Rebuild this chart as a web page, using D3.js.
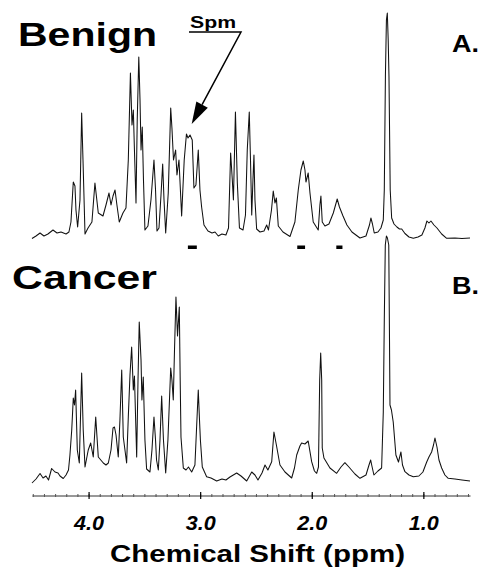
<!DOCTYPE html>
<html>
<head>
<meta charset="utf-8">
<script src="https://cdn.jsdelivr.net/npm/d3@7/dist/d3.min.js"></script>
<style>
  html, body { margin: 0; padding: 0; background: #fff; }
  svg { display: block; }
  text { font-family: "Liberation Sans", Arial, Helvetica, sans-serif; font-weight: bold; fill: #000; }
</style>
</head>
<body>
<svg id="chart" width="481" height="574"></svg>
<script>
// 1H spectrum traces: chemical shift (ppm) and intensity (arbitrary units)
const benignShift = [4.507,4.471,4.435,4.400,4.364,4.319,4.283,4.247,4.202,4.176,4.158,4.137,4.122,4.113,4.098,4.077,4.062,4.050,4.032,4.005,
  3.970,3.943,3.913,3.871,3.844,3.817,3.799,3.781,3.763,3.746,3.725,3.692,3.665,3.644,3.625,3.611,3.599,3.589,3.575,3.564,
  3.550,3.539,3.530,3.519,3.508,3.495,3.468,3.441,3.414,3.400,3.387,3.369,3.351,3.336,3.324,3.309,3.286,3.264,3.253,3.239,
  3.220,3.208,3.190,3.166,3.143,3.123,3.109,3.091,3.071,3.056,3.038,3.017,3.002,2.987,2.966,2.930,2.894,2.867,2.838,2.805,
  2.769,2.746,2.727,2.712,2.702,2.684,2.667,2.648,2.616,2.594,2.578,2.560,2.549,2.538,2.527,2.518,2.509,2.494,2.464,2.428,
  2.404,2.388,2.361,2.345,2.330,2.317,2.300,2.258,2.195,2.151,2.121,2.097,2.076,2.061,2.052,2.032,2.016,1.987,1.942,1.927,
  1.918,1.906,1.882,1.846,1.807,1.772,1.752,1.720,1.685,1.640,1.568,1.514,1.483,1.470,1.456,1.440,1.407,1.380,1.359,1.350,
  1.340,1.331,1.323,1.315,1.308,1.297,1.284,1.263,1.237,1.214,1.194,1.165,1.129,1.090,1.048,1.013,0.986,0.968,0.950,0.932,
  0.905,0.878,0.836,0.791,0.717,0.654,0.582];
const benignIntensity = [1.5,4,7,4,6,10,7,8,6,8,18,58,54,30,13,40,127,80,6,12,
  18,57,27,24,35,47,35,44,50,35,18,27,32,80,167,115,130,90,37,120,
  183,140,90,113,60,10,14,40,80,50,9,12,45,76,40,7,47,132,112,80,
  90,65,80,24,80,106,102,105,100,52,55,90,50,33,15,9,7,8,4,6,
  5,12,87,60,40,128,57,12,10,25,90,128,80,25,60,85,40,11,8,9,
  15,10,30,49,37,42,14,8,3.5,18,50,70,79,70,58,67,47,18,10,35,
  44,18,14,16,27,41,33,24,15,8,2,4,15,22,16,7,8,12,20,50,
  164,220,227,200,163,50,22,16,13,11,11,6.5,3,1.7,3,5,12,19,17,19,
  15,12,6,1.7,2,1.5,2];

const cancerShift = [4.507,4.471,4.435,4.408,4.382,4.359,4.331,4.301,4.274,4.256,4.227,4.202,4.180,4.167,4.151,4.137,4.126,4.116,4.101,4.083,
  4.073,4.062,4.048,4.032,4.003,3.981,3.958,3.936,3.913,3.868,3.844,3.823,3.799,3.781,3.768,3.754,3.734,3.719,3.703,3.689,
  3.659,3.644,3.629,3.614,3.599,3.589,3.569,3.557,3.546,3.530,3.522,3.510,3.495,3.480,3.450,3.432,3.414,3.400,3.391,3.375,
  3.360,3.345,3.329,3.309,3.289,3.264,3.253,3.241,3.230,3.217,3.203,3.187,3.179,3.172,3.151,3.127,3.105,3.076,3.047,3.033,
  3.017,3.006,2.998,2.981,2.942,2.903,2.852,2.805,2.769,2.733,2.673,2.634,2.583,2.538,2.509,2.482,2.446,2.419,2.393,2.359,
  2.339,2.317,2.285,2.240,2.180,2.155,2.135,2.106,2.091,2.061,2.032,2.001,1.976,1.956,1.940,1.929,1.920,1.911,1.906,1.891,
  1.837,1.777,1.738,1.703,1.667,1.613,1.568,1.514,1.487,1.472,1.461,1.443,1.407,1.374,1.359,1.350,1.341,1.331,1.322,1.310,
  1.304,1.299,1.286,1.270,1.246,1.223,1.201,1.187,1.165,1.129,1.090,1.040,1.004,0.970,0.950,0.926,0.909,0.896,0.878,0.860,
  0.836,0.807,0.777,0.717,0.654,0.582];
const cancerIntensity = [2,6,11.5,7,9,5,16.5,13,12,9,6.5,10,15,30,55,87,80,95,35,22,
  65,112,55,18,35,42,28,68,28,22,20,22,35,57,58,50,28,65,115,48,
  22,68,110,138,95,109,28,105,163,125,85,108,45,16,13,35,68,45,25,15,
  45,89,45,12,45,117,105,85,135,188,149,178,105,48,17,15,18,13,20,55,
  95,65,45,18,8.3,7,4,6,5,8,12,9,4,13,10,5,12,20,15,23.3,
  53,40,20,13,7,17,30,39,42,41,44,23.3,14,11.7,18,105,132,105,37,27,
  17,11.7,18,22.3,18,11,6.7,10,20,25,19,10,14,17,73,165,240,249,247,240,
  155,80,75,63,30,23,33,20,13.3,10,8.3,9,13,23,28,33,40,47,38,25,
  17,10,6.7,6,5,4];

// Shift ranges marked beneath the benign trace
const markedRanges = [[3.11, 3.03], [2.13, 2.06], [1.78, 1.725]];
// Spermine multiplet indicated by the arrow (ppm, intensity)
const spmTarget = [3.076, 116];

const majorTicks = [4.0, 3.0, 2.0, 1.0];
const majorTickLabels = ["4.0", "3.0", "2.0", "1.0"];
const minorTicks = d3.range(45, 5, -1).map(d => d / 10);

const svg = d3.select("#chart");
svg.append("rect").attr("width", 481).attr("height", 574).attr("fill", "#fff");

const x = d3.scaleLinear().domain([4.507, 0.582]).range([32, 470]);
const yBenign = d3.scaleLinear().domain([0, 230]).range([240, 10]);
const yCancer = d3.scaleLinear().domain([0, 230]).range([485, 255]);

function trace(shift, inten, y) {
  const pts = shift.map((s, i) => [s, inten[i]]);
  return d3.line().x(d => x(d[0])).y(d => y(d[1])).curve(d3.curveLinear)(pts);
}

svg.append("path")
  .attr("d", trace(cancerShift, cancerIntensity, yCancer))
  .attr("fill", "none").attr("stroke", "#111").attr("stroke-width", 1.05)
  .attr("stroke-linejoin", "round");
svg.append("path")
  .attr("d", trace(benignShift, benignIntensity, yBenign))
  .attr("fill", "none").attr("stroke", "#111").attr("stroke-width", 1.05)
  .attr("stroke-linejoin", "round");

// marked ranges
svg.selectAll("rect.mark").data(markedRanges).join("rect")
  .attr("class", "mark")
  .attr("x", d => x(d[0])).attr("width", d => x(d[1]) - x(d[0]))
  .attr("y", 245.5).attr("height", 3.5).attr("fill", "#000");

// Spm annotation
const tipX = x(spmTarget[0]), tipY = yBenign(spmTarget[1]);
const startX = 241, startY = 32;
const dx = tipX - startX, dy = tipY - startY, len = Math.hypot(dx, dy);
const ux = dx / len, uy = dy / len;
const headLen = 22, headW = 6.5;
const bx = tipX - ux * headLen, by = tipY - uy * headLen;
svg.append("path")
  .attr("d", `M189,${startY}H${startX}L${bx},${by}`)
  .attr("fill", "none").attr("stroke", "#000").attr("stroke-width", 1.5);
svg.append("path")
  .attr("d", `M${tipX},${tipY}L${bx + uy * headW},${by - ux * headW}L${bx - uy * headW},${by + ux * headW}Z`)
  .attr("fill", "#000");
svg.append("text").attr("x", 190).attr("y", 28).attr("font-size", 16)
  .attr("textLength", 46).attr("lengthAdjust", "spacingAndGlyphs").text("Spm");

// panel titles
svg.append("text").attr("x", 18).attr("y", 46).attr("font-size", 34)
  .attr("textLength", 139).attr("lengthAdjust", "spacingAndGlyphs").text("Benign");
svg.append("text").attr("x", 12).attr("y", 288.5).attr("font-size", 33)
  .attr("textLength", 145).attr("lengthAdjust", "spacingAndGlyphs").text("Cancer");
svg.append("text").attr("x", 452).attr("y", 51.5).attr("font-size", 23)
  .attr("textLength", 27).attr("lengthAdjust", "spacingAndGlyphs").text("A.");
svg.append("text").attr("x", 452).attr("y", 294).attr("font-size", 24)
  .attr("textLength", 27).attr("lengthAdjust", "spacingAndGlyphs").text("B.");

// shift axis
const axisY = 495.5;
const minorAxis = svg.append("g").attr("transform", `translate(0,${axisY})`)
  .call(d3.axisBottom(x).tickValues(minorTicks).tickSize(1.5).tickSizeOuter(0).tickFormat(""));
minorAxis.select(".domain").attr("stroke", "#333").attr("stroke-width", 1);
minorAxis.selectAll(".tick line").attr("y1", -1.5).attr("y2", 1.5).attr("stroke", "#555");

const majorAxis = svg.append("g").attr("transform", `translate(0,${axisY})`)
  .call(d3.axisBottom(x).tickValues(majorTicks).tickSize(3.5).tickSizeOuter(0)
    .tickFormat((d, i) => majorTickLabels[i]));
majorAxis.select(".domain").remove();
majorAxis.selectAll(".tick line").attr("y1", -3.5).attr("y2", 3.5).attr("stroke", "#000").attr("stroke-width", 1.2);
majorAxis.selectAll(".tick text")
  .attr("y", 34.5).attr("dy", 0)
  .attr("font-size", 20).attr("font-style", "italic").attr("font-weight", "bold")
  .attr("font-family", "'Liberation Sans', Arial, sans-serif").attr("fill", "#000")
  .attr("textLength", 30).attr("lengthAdjust", "spacingAndGlyphs");

svg.append("text").attr("x", 257.5).attr("y", 562).attr("text-anchor", "middle")
  .attr("font-size", 23).attr("textLength", 295).attr("lengthAdjust", "spacingAndGlyphs")
  .text("Chemical Shift (ppm)");
</script>
</body>
</html>
